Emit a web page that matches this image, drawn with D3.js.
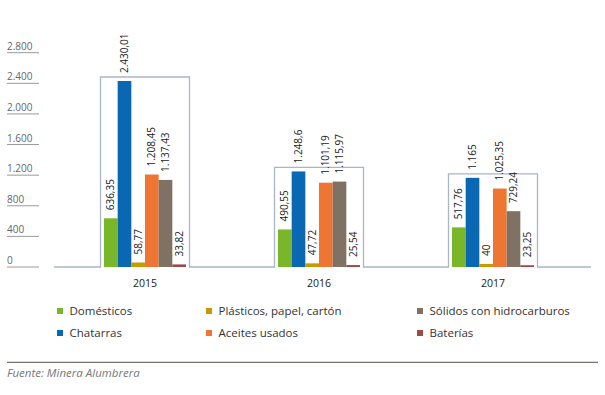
<!DOCTYPE html>
<html><head><meta charset="utf-8">
<script src="https://cdn.jsdelivr.net/npm/d3@7/dist/d3.min.js"></script>
<style>
body{margin:0;background:#fff;}
svg{display:block;font-family:"Open Sans",sans-serif;}
</style></head>
<body><svg id="c" width="605" height="395"></svg>
<script>
const years = ["2015","2016","2017"];
const series = ["Domésticos","Chatarras","Plásticos, papel, cartón","Aceites usados","Sólidos con hidrocarburos","Baterías"];
const colors = ["#7ab629","#0a67b2","#c89a00","#ef7632","#7f7264","#a04a48"];
const domesticos = [636.35, 490.55, 517.76];
const chatarras = [2430.01, 1248.6, 1165];
const plasticos = [58.77, 47.72, 40];
const aceites = [1208.45, 1101.19, 1025.35];
const solidos = [1137.43, 1115.97, 729.24];
const baterias = [33.82, 25.54, 23.25];
const yTicks = [0,400,800,1200,1600,2000,2400,2800];
const source = "Fuente: Minera Alumbrera";

const valuesBySeries = [domesticos, chatarras, plasticos, aceites, solidos, baterias];
const data = years.map((yr,i)=>({year:yr, values: series.map((s,j)=>({key:s, idx:j, v:valuesBySeries[j][i]}))}));

const loc = d3.formatLocale({decimal:",", thousands:".", grouping:[3], currency:["$",""]});
const fmtVal = loc.format(",.2~f");
const fmtTick = loc.format(",d");

const svg = d3.select("#c");
const y = d3.scaleLinear().domain([0,2800]).range([267,52.7]);
const x0 = d3.scaleBand().domain(years).range([58,580]).padding(0);
const groupW = 82;
const x1 = d3.scaleBand().domain(series).range([0,groupW]).padding(0);

// y ticks
const tg = svg.append("g").selectAll("g").data(yTicks).join("g");
tg.append("line").attr("x1",7).attr("x2",39).attr("y1",d=>y(d)).attr("y2",d=>y(d))
  .attr("stroke","#9a9a9a").attr("stroke-width",1);
tg.append("text").attr("x",7).attr("y",d=>y(d)-3).text(d=>fmtTick(d))
  .attr("font-size",10).attr("fill","#666");

// baseline with boxes
const pad = 3.5;
let p = d3.path();
p.moveTo(54, y(0));
data.forEach(g=>{
  const cx = x0(g.year)+x0.bandwidth()/2;
  const l = cx-groupW/2-pad, r = cx+groupW/2+pad;
  const top = y(d3.max(g.values,d=>d.v))-4;
  p.lineTo(l, y(0)); p.lineTo(l, top); p.lineTo(r, top); p.lineTo(r, y(0));
});
p.lineTo(591, y(0));
svg.append("path").attr("d",p.toString()).attr("fill","none").attr("stroke","#a9b6c8").attr("stroke-width",1.3);

// bars
const gg = svg.append("g").selectAll("g").data(data).join("g")
  .attr("transform",d=>`translate(${x0(d.year)+x0.bandwidth()/2-groupW/2},0)`);
gg.selectAll("rect").data(d=>d.values).join("rect")
  .attr("x",d=>x1(d.key)).attr("width",x1.bandwidth())
  .attr("y",d=>y(d.v)).attr("height",d=>y(0)-y(d.v))
  .attr("fill",d=>colors[d.idx]);
gg.selectAll("text.v").data(d=>d.values).join("text").attr("class","v")
  .attr("transform",d=>`translate(${x1(d.key)+x1.bandwidth()/2},${y(d.v)-8}) rotate(-90)`)
  .attr("dy","0.35em").attr("text-anchor","start")
  .attr("font-size",10).attr("fill","#222").text(d=>fmtVal(d.v));

// year labels
svg.append("g").selectAll("text").data(years).join("text")
  .attr("x",d=>x0(d)+x0.bandwidth()/2).attr("y",287).attr("text-anchor","middle")
  .attr("font-size",10.5).attr("font-weight",500).attr("fill","#222").text(d=>d);

// legend
const legPos = [[57,311],[57,333],[206,311],[206,333],[417,311],[417,333]];
const legOrder = [0,1,2,3,4,5];
const lg = svg.append("g").selectAll("g").data(legOrder).join("g")
  .attr("transform",(d,i)=>`translate(${legPos[i][0]},${legPos[i][1]})`);
lg.append("rect").attr("x",0).attr("y",-3).attr("width",6).attr("height",6).attr("fill",d=>colors[d]);
lg.append("text").attr("x",12.5).attr("y",0).attr("dy","0.35em").attr("font-size",11.5)
  .attr("fill","#333").text(d=>series[d]);

// separator and source
svg.append("line").attr("x1",7).attr("x2",598).attr("y1",362.3).attr("y2",362.3)
  .attr("stroke","#7a726a").attr("stroke-width",1.2);
svg.append("text").attr("x",7).attr("y",377).attr("font-size",11.5).attr("font-style","italic")
  .attr("fill","#777").text(source);
</script></body></html>
